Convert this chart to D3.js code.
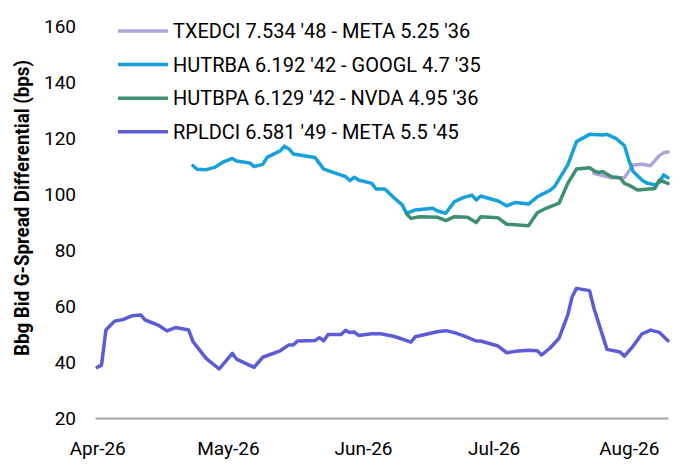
<!DOCTYPE html>
<meta charset="utf-8">
<script src="https://cdn.jsdelivr.net/npm/d3@7/dist/d3.min.js"></script>
<style>
    body { margin: 0; background: #fff; }
    text { font-family: Roboto, "Noto Sans", sans-serif; fill: #000; }
</style>
<body>
<svg width="684" height="467"></svg>
</body>
<script>

    // series names (legend order = draw order)
    var seriesNames = [
        "TXEDCI 7.534 '48 - META 5.25 '36",
        "HUTRBA 6.192 '42 - GOOGL 4.7 '35",
        "HUTBPA 6.129 '42 - NVDA 4.95 '36",
        "RPLDCI 6.581 '49 - META 5.5 '45"
    ];

    // TXEDCI - META
    var txedciDates = ["2026-07-24", "2026-07-28", "2026-07-31", "2026-08-02", "2026-08-04", "2026-08-06", "2026-08-08", "2026-08-09", "2026-08-10"];
    var txedciValues = [107.4, 105.8, 105.8, 110.4, 110.6, 110.1, 113.7, 114.7, 115.0];

    // HUTRBA - GOOGL
    var hutrbaDates = ["2026-04-23", "2026-04-24", "2026-04-26", "2026-04-28", "2026-04-30", "2026-05-02", "2026-05-03", "2026-05-06",
        "2026-05-07", "2026-05-09", "2026-05-10", "2026-05-13", "2026-05-14", "2026-05-15", "2026-05-16", "2026-05-21",
        "2026-05-23", "2026-05-28", "2026-05-29", "2026-05-30", "2026-05-31", "2026-06-03", "2026-06-04", "2026-06-06",
        "2026-06-08", "2026-06-10", "2026-06-11", "2026-06-13", "2026-06-17", "2026-06-18", "2026-06-20", "2026-06-22",
        "2026-06-24", "2026-06-26", "2026-06-27", "2026-06-28", "2026-07-02", "2026-07-04", "2026-07-06", "2026-07-09",
        "2026-07-11", "2026-07-14", "2026-07-15", "2026-07-18", "2026-07-20", "2026-07-23", "2026-07-26", "2026-07-27",
        "2026-07-29", "2026-07-31", "2026-08-01", "2026-08-02", "2026-08-04", "2026-08-05", "2026-08-07", "2026-08-08",
        "2026-08-09", "2026-08-10"];
    var hutrbaValues = [110.1, 108.8, 108.7, 109.5, 111.5, 112.7, 111.8, 111.1,
        109.8, 110.6, 113.1, 115.4, 117.1, 116.1, 114.3, 113.0,
        108.9, 106.2, 104.8, 106.0, 105.0, 103.8, 101.8, 101.8,
        98.8, 96.1, 93.1, 94.3, 94.9, 94.0, 93.1, 97.3,
        98.7, 99.6, 97.9, 99.3, 97.5, 95.8, 97.0, 96.4,
        99.0, 101.4, 102.7, 110.4, 118.7, 121.3, 121.1, 121.3,
        119.9, 117.3, 112.1, 108.0, 105.0, 104.0, 103.2, 104.2,
        106.8, 105.8];

    // HUTBPA - NVDA
    var hutbpaDates = ["2026-06-11", "2026-06-12", "2026-06-14", "2026-06-18", "2026-06-20", "2026-06-22", "2026-06-25", "2026-06-27",
        "2026-06-28", "2026-07-02", "2026-07-04", "2026-07-09", "2026-07-11", "2026-07-13", "2026-07-16", "2026-07-18",
        "2026-07-20", "2026-07-23", "2026-07-24", "2026-07-25", "2026-07-26", "2026-07-28", "2026-07-30", "2026-07-31",
        "2026-08-01", "2026-08-03", "2026-08-07", "2026-08-08", "2026-08-10"];
    var hutbpaValues = [92.9, 91.3, 91.9, 91.7, 90.5, 91.9, 91.7, 89.8,
        91.9, 91.5, 89.2, 88.7, 93.3, 94.9, 96.7, 103.8,
        108.9, 109.4, 108.3, 107.7, 108.0, 106.2, 105.8, 103.8,
        103.2, 101.4, 102.0, 105.0, 103.8];

    // RPLDCI - META
    var rpldciDates = ["2026-04-01", "2026-04-02", "2026-04-03", "2026-04-05", "2026-04-07", "2026-04-09", "2026-04-11", "2026-04-12",
        "2026-04-15", "2026-04-17", "2026-04-19", "2026-04-22", "2026-04-23", "2026-04-26", "2026-04-29", "2026-05-02",
        "2026-05-03", "2026-05-07", "2026-05-09", "2026-05-13", "2026-05-15", "2026-05-16", "2026-05-17", "2026-05-21",
        "2026-05-22", "2026-05-23", "2026-05-24", "2026-05-27", "2026-05-28", "2026-05-29", "2026-05-30", "2026-05-31",
        "2026-06-03", "2026-06-05", "2026-06-08", "2026-06-10", "2026-06-12", "2026-06-13", "2026-06-16", "2026-06-18",
        "2026-06-20", "2026-06-22", "2026-06-24", "2026-06-27", "2026-06-28", "2026-07-02", "2026-07-04", "2026-07-06",
        "2026-07-09", "2026-07-11", "2026-07-12", "2026-07-14", "2026-07-16", "2026-07-18", "2026-07-19", "2026-07-20",
        "2026-07-23", "2026-07-24", "2026-07-27", "2026-07-30", "2026-07-31", "2026-08-02", "2026-08-04", "2026-08-06",
        "2026-08-08", "2026-08-10"];
    var rpldciValues = [38.1, 38.9, 51.4, 54.6, 55.2, 56.5, 56.8, 55.0,
        53.2, 51.1, 52.3, 51.4, 47.3, 41.3, 37.5, 43.1,
        41.0, 38.1, 41.7, 44.0, 46.1, 46.1, 47.5, 47.7,
        48.7, 47.6, 49.8, 49.8, 51.3, 50.5, 50.7, 49.5,
        50.1, 50.1, 49.2, 48.2, 47.1, 49.0, 50.1, 50.8,
        51.2, 50.5, 49.4, 47.5, 47.5, 45.7, 43.3, 43.8,
        44.2, 44.0, 42.5, 45.1, 48.5, 56.8, 63.3, 66.3,
        65.5, 59.2, 44.5, 43.6, 42.1, 45.7, 50.0, 51.4,
        50.6, 47.6];

    var yTicks = [20, 40, 60, 80, 100, 120, 140, 160];
    var monthTicks = ["2026-04-01", "2026-05-01", "2026-06-01", "2026-07-01", "2026-08-01"];

    //线条颜色
    var colors = ["#aca6d8", "#16a1dc", "#3d8f70", "#5d5cd6"];

    var parseDate = d3.timeParse("%Y-%m-%d");

    var allDates = [txedciDates, hutrbaDates, hutbpaDates, rpldciDates];
    var allValues = [txedciValues, hutrbaValues, hutbpaValues, rpldciValues];

    var series = seriesNames.map(function (name, i) {
        return {
            name: name,
            color: colors[i],
            points: allDates[i].map(function (d, j) {
                return {date: parseDate(d), value: allValues[i][j]};
            })
        };
    });

    var svg = d3.select("svg");

    var x = d3.scaleTime()
        .domain([new Date(2026, 2, 31, 12), new Date(2026, 7, 10)])
        .range([95, 668]);

    var y = d3.scaleLinear()
        .domain([20, 160])
        .range([418, 26]);

    // y 轴
    var yAxis = svg.append("g")
        .attr("transform", "translate(79,0)")
        .call(d3.axisLeft(y).tickValues(yTicks).tickSize(0).tickPadding(3));
    yAxis.select(".domain").remove();
    yAxis.selectAll("text")
        .style("font-family", "Roboto")
        .style("font-size", "19px")
        .attr("fill", "#000");

    // x 轴
    var xAxis = svg.append("g")
        .attr("transform", "translate(0,418)")
        .call(d3.axisBottom(x)
            .tickValues(monthTicks.map(parseDate))
            .tickFormat(d3.timeFormat("%b-%y"))
            .tickSizeInner(0)
            .tickSizeOuter(0)
            .tickPadding(24));
    xAxis.select(".domain")
        .attr("stroke", "#a6a6a6")
        .attr("stroke-width", 2);
    xAxis.selectAll("text")
        .style("font-family", "Roboto")
        .style("font-size", "19px")
        .attr("fill", "#000");

    // y 轴标题
    svg.append("text")
        .attr("transform", "translate(29,208) rotate(-90)")
        .attr("text-anchor", "middle")
        .attr("textLength", 296)
        .attr("lengthAdjust", "spacingAndGlyphs")
        .style("font-size", "21px")
        .style("font-weight", "bold")
        .text("Bbg Bid G-Spread Differential (bps)");

    // 折线
    var line = d3.line()
        .x(function (d) { return x(d.date); })
        .y(function (d) { return y(d.value); });

    svg.append("g").selectAll("path")
        .data(series)
        .enter()
        .append("path")
        .attr("fill", "none")
        .attr("stroke", function (d) { return d.color; })
        .attr("stroke-width", 3.5)
        .attr("stroke-linejoin", "round")
        .attr("stroke-linecap", "round")
        .attr("d", function (d) { return line(d.points); });

    // 图例
    var legend = svg.append("g").selectAll("g")
        .data(series)
        .enter()
        .append("g")
        .attr("transform", function (d, i) { return "translate(118," + (31 + i * 33.6) + ")"; });

    legend.append("line")
        .attr("x1", 0)
        .attr("x2", 50)
        .attr("stroke", function (d) { return d.color; })
        .attr("stroke-width", 3.5);

    legend.append("text")
        .attr("x", 55)
        .attr("dy", "0.35em")
        .style("font-size", "20px")
        .text(function (d) { return d.name; });

</script>
